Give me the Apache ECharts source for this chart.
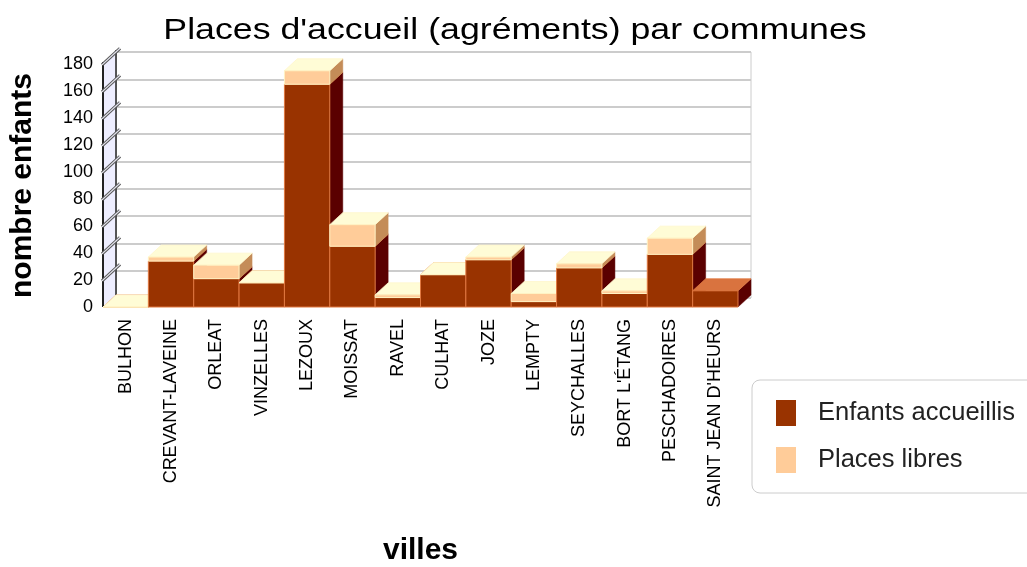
<!DOCTYPE html>
<html>
<head>
<meta charset="utf-8">
<script src="https://cdn.jsdelivr.net/npm/echarts@6/dist/echarts.min.js"></script>
<style>
  html, body { margin: 0; padding: 0; background: #fff; }
  #chart { width: 1027px; height: 567px; }
</style>
</head>
<body>
<div id="chart"></div>
<script>
// communes (axe des x)
var villes = ['BULHON', 'CREVANT-LAVEINE', 'ORLEAT', 'VINZELLES', 'LEZOUX', 'MOISSAT', 'RAVEL',
              'CULHAT', 'JOZE', 'LEMPTY', 'SEYCHALLES', "BORT L'ÉTANG", 'PESCHADOIRES', "SAINT JEAN D'HEURS"];
// valeurs
var enfants = [0, 34, 21, 18, 165, 45, 7, 24, 35, 4, 29, 10, 39, 12];
var libres  = [0, 3, 10, 0, 10, 16, 2, 0, 2, 6, 3, 2, 12, null];
var yTicks  = [0, 20, 40, 60, 80, 100, 120, 140, 160, 180];

var DX = 13, DY = 12;   // profondeur du faux 3D
var FONT = '"Liberation Sans", Arial, sans-serif';

var chart = echarts.init(document.getElementById('chart'));

function prism(xl, xr, yb, yt, c, z) {
  return {
    type: 'group',
    children: [
      { type: 'polygon', z2: z,
        shape: { points: [[xr, yt], [xr + DX, yt - DY], [xr + DX, yb - DY], [xr, yb]] },
        style: { fill: c.side, stroke: c.side, lineWidth: 0.5 } },
      { type: 'polygon', z2: z + 1,
        shape: { points: [[xl, yt], [xr, yt], [xr + DX, yt - DY], [xl + DX, yt - DY]] },
        style: { fill: c.top, stroke: c.topEdge, lineWidth: 0.8 } },
      { type: 'rect', z2: z + 2,
        shape: { x: xl, y: yt, width: xr - xl, height: yb - yt },
        style: { fill: c.front, stroke: c.edge, lineWidth: 1 } }
    ]
  };
}

var darkColors = { front: '#993300', side: '#5a0000', top: '#d9733f', topEdge: '#e07840', edge: '#e07840' };
var lightColors = { front: '#ffcc99', side: '#c48c58', top: '#fffcd6', topEdge: '#fff6cc', edge: '#fff3c4' };

function renderBar(colors, k) {
  return function (params, api) {
    var i = api.value(0);
    var bw = api.size([1, 0])[0];
    var p0 = api.coord([i, api.value(1)]);
    var p1 = api.coord([i, api.value(2)]);
    return prism(p0[0] - bw / 2, p0[0] + bw / 2, p0[1], p1[1], colors, i * 10 + k);
  };
}

function renderWall(params, api) {
  var bw = api.size([1, 0])[0];
  var x = api.coord([0, 0])[0] - bw / 2;
  var yb = api.coord([0, 0])[1];
  var yt = api.coord([0, 180])[1];
  return {
    type: 'group',
    children: [
      { type: 'polygon', shape: { points: [[x, yb], [x, yt], [x + DX, yt - DY], [x + DX, yb - DY]] },
        style: { fill: '#eeeeff' } },
      { type: 'line', shape: { x1: x + DX, y1: yb - DY, x2: x + DX, y2: yt - DY - 2 },
        style: { stroke: '#222', lineWidth: 1.5 } },
      { type: 'line', shape: { x1: x, y1: yb, x2: x, y2: yt - 2 },
        style: { stroke: '#222', lineWidth: 2 } }
    ]
  };
}

function renderTick(params, api) {
  var v = api.value(1);
  if (v === 0) return null;
  var bw = api.size([1, 0])[0];
  var x = api.coord([0, v])[0] - bw / 2;
  var y = api.coord([0, v])[1];
  var k = DY / DX;
  return {
    type: 'group',
    children: [
      { type: 'line', shape: { x1: x - 1, y1: y + k, x2: x + DX + 4, y2: y - DY - 4 * k },
        style: { stroke: '#555', lineWidth: 3.2 } },
      { type: 'line', shape: { x1: x - 1, y1: y + k, x2: x + DX + 4, y2: y - DY - 4 * k },
        style: { stroke: '#e4e4ee', lineWidth: 1.2 } }
    ]
  };
}

var darkData = enfants.map(function (v, i) { return [i, 0, v]; });
var lightData = [];
libres.forEach(function (v, i) {
  if (v !== null) lightData.push([i, enfants[i], enfants[i] + v]);
});

var option = {
  backgroundColor: '#fff',
  animation: false,
  textStyle: { fontFamily: FONT },
  graphic: [{
    type: 'text', x: 515, y: 31, scaleX: 1.19,
    style: { text: "Places d'accueil (agréments) par communes", font: 'normal 30px ' + FONT,
             fill: '#000', align: 'center', verticalAlign: 'middle' }
  }],
  legend: {
    data: ['Enfants accueillis', 'Places libres'],
    orient: 'vertical',
    left: 752, top: 380,
    padding: [20, 34, 20, 24],
    itemGap: 21,
    itemWidth: 20, itemHeight: 26,
    icon: 'rect',
    borderColor: '#cccccc', borderWidth: 1, borderRadius: 8,
    backgroundColor: '#fff',
    textStyle: { fontSize: 25.5, color: '#222', fontFamily: FONT, padding: [0, 0, 0, 17] }
  },
  grid: [
    { left: 103, top: 64, width: 635, height: 246 },
    { left: 103 + DX, top: 64 - DY, width: 635, height: 246, show: true,
      borderColor: '#cccccc', borderWidth: 1, backgroundColor: 'transparent' }
  ],
  xAxis: [
    { type: 'category', data: villes, gridIndex: 0,
      axisLine: { show: false }, axisTick: { show: false },
      axisLabel: { rotate: 90, interval: 0, fontSize: 18, color: '#000', margin: 12, fontFamily: FONT },
      name: 'villes', nameLocation: 'middle', nameGap: 229,
      nameTextStyle: { fontSize: 30, fontWeight: 'bold', color: '#000', fontFamily: FONT } },
    { type: 'category', data: villes, gridIndex: 1, show: false }
  ],
  yAxis: [
    { type: 'value', gridIndex: 0, min: 0, max: 180, interval: 20,
      axisLine: { show: false }, axisTick: { show: false }, splitLine: { show: false },
      axisLabel: { fontSize: 18, color: '#000', margin: 10, fontFamily: FONT },
      name: 'nombre enfants', nameLocation: 'middle', nameRotate: 90, nameGap: 65,
      nameTextStyle: { fontSize: 30, fontWeight: 'bold', color: '#000', fontFamily: FONT } },
    { type: 'value', gridIndex: 1, min: 0, max: 180, interval: 20,
      axisLine: { show: false }, axisTick: { show: false }, axisLabel: { show: false },
      splitLine: { lineStyle: { color: '#cccccc', width: 2 } } }
  ],
  series: [
    { type: 'custom', name: 'mur', xAxisIndex: 0, yAxisIndex: 0, silent: true,
      data: [[0, 180]], renderItem: renderWall },
    { type: 'custom', name: 'graduations', xAxisIndex: 0, yAxisIndex: 0, silent: true,
      data: yTicks.map(function (t) { return [0, t]; }), renderItem: renderTick },
    { type: 'custom', name: 'Enfants accueillis', xAxisIndex: 0, yAxisIndex: 0,
      itemStyle: { color: '#993300' },
      encode: { x: 0, y: [1, 2] },
      data: darkData, renderItem: renderBar(darkColors, 0) },
    { type: 'custom', name: 'Places libres', xAxisIndex: 0, yAxisIndex: 0,
      itemStyle: { color: '#ffcc99' },
      encode: { x: 0, y: [1, 2] },
      data: lightData, renderItem: renderBar(lightColors, 5) }
  ]
};

chart.setOption(option);
</script>
</body>
</html>
